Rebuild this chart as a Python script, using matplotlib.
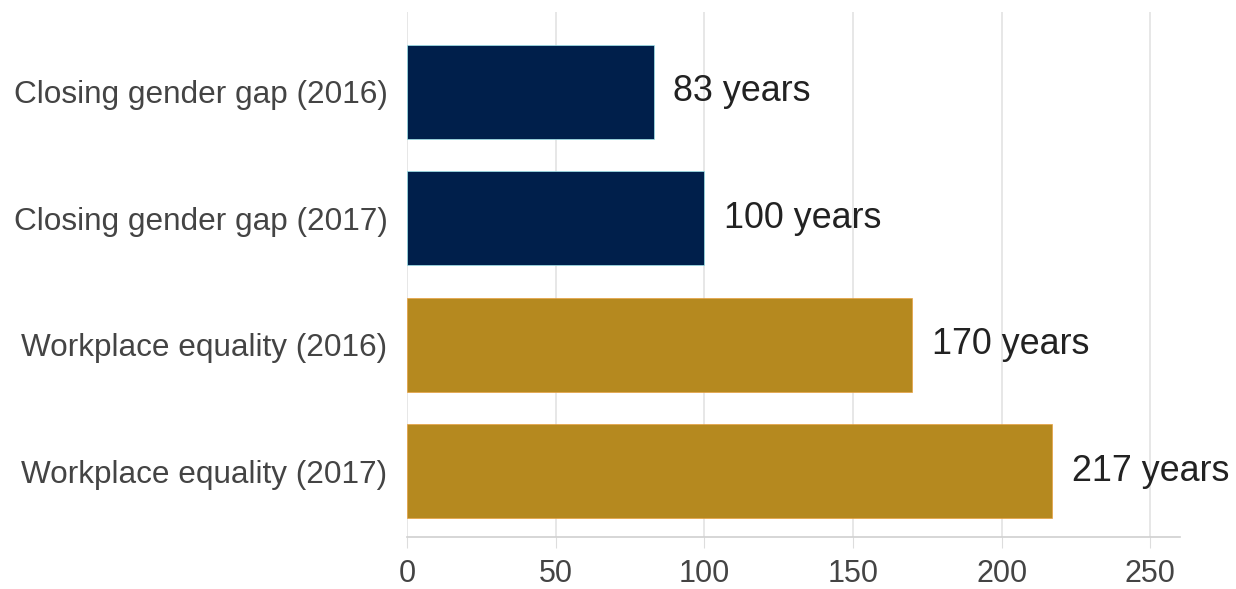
import matplotlib.pyplot as plt

labels = ['Closing gender gap (2016)', 'Closing gender gap (2017)',
          'Workplace equality (2016)', 'Workplace equality (2017)']
years = [83, 100, 170, 217]
colors = ['#001f4b', '#001f4b', '#b5891f', '#b5891f']
edges = ['#9fe8ee', '#9fe8ee', '#e8a040', '#e8a040']
xticks = [0, 50, 100, 150, 200, 250]

plt.rcParams['font.family'] = ['Liberation Sans', 'DejaVu Sans']

fig = plt.figure(figsize=(12.36, 5.89), dpi=100)
ax = fig.add_axes([0.3293, 0.0883, 0.6254, 0.8913])

ypos = list(range(len(labels)))
ax.barh(ypos, years, height=0.74, color=colors, edgecolor=edges, linewidth=0.5, zorder=2)
for y, v in zip(ypos, years):
    ax.annotate(f'{v} years', (v, y), xytext=(14, 0), textcoords='offset points',
                va='center', ha='left', fontsize=25.8, color='#222222')

ax.set_xlim(0, 260)
ax.set_ylim(3.52, -0.63)
ax.set_yticks(ypos)
ax.set_yticklabels(labels, fontsize=22.7, color='#444444')
ax.set_xticks(xticks)
ax.set_xticklabels([str(t) for t in xticks], fontsize=22, color='#444444')
ax.tick_params(axis='y', length=0, pad=14)
ax.tick_params(axis='x', length=8, color='#dddddd', pad=8)
ax.grid(axis='x', color='#e3e3e3', linewidth=1.2, zorder=0)
for s in ['top', 'right', 'left']:
    ax.spines[s].set_visible(False)
ax.spines['bottom'].set_color('#d0d0d0')
ax.spines['bottom'].set_linewidth(1.2)

fig.savefig('out.png', dpi=100)
